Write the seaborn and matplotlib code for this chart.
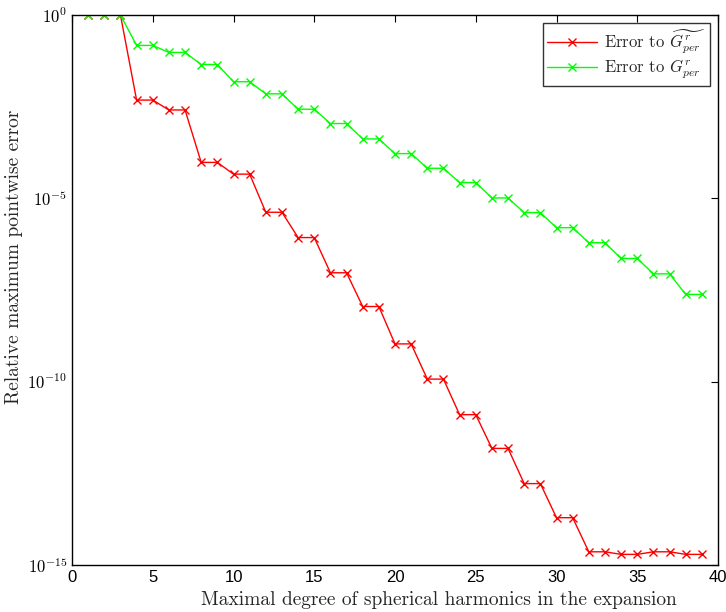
import numpy as np
import pandas as pd
import matplotlib
matplotlib.use("Agg")
import matplotlib.pyplot as plt
import seaborn as sns

degree = list(range(1, 40))
# log10 of relative maximum pointwise error
red_log = [0, 0, 0, -2.32, -2.32, -2.59, -2.59, -4.02, -4.02, -4.34, -4.34,
           -5.38, -5.38, -6.07, -6.07, -7.03, -7.03, -7.95, -7.95, -8.97, -8.97,
           -9.93, -9.93, -10.9, -10.9, -11.82, -11.82, -12.78, -12.78, -13.71, -13.71,
           -14.64, -14.64, -14.71, -14.71, -14.64, -14.64, -14.71, -14.71]
green_log = [0, 0, 0, -0.83, -0.83, -1.02, -1.02, -1.35, -1.35, -1.82, -1.82,
             -2.15, -2.15, -2.57, -2.57, -2.96, -2.96, -3.38, -3.38, -3.78, -3.78,
             -4.18, -4.18, -4.57, -4.57, -4.99, -4.99, -5.39, -5.39, -5.80, -5.80,
             -6.21, -6.21, -6.64, -6.64, -7.06, -7.06, -7.62, -7.62]
labels = [r'Error to $\widetilde{G^{r}_{per}}$', r'Error to $G^{r}_{per}$']
colors = ['#ff0000', '#00ff00']
x_ticks = [0, 5, 10, 15, 20, 25, 30, 35, 40]
y_ticks = [1e-15, 1e-10, 1e-5, 1e0]
y_ticklabels = [r'$\mathsf{10^{-15}}$', r'$\mathsf{10^{-10}}$', r'$\mathsf{10^{-5}}$', r'$\mathsf{10^{0}}$']

df = pd.DataFrame({
    'degree': degree * 2,
    'error': [10 ** v for v in red_log] + [10 ** v for v in green_log],
    'series': [labels[0]] * len(degree) + [labels[1]] * len(degree),
})

sns.set_style('white')
plt.rcParams['mathtext.fontset'] = 'cm'
plt.rcParams['axes.unicode_minus'] = True
fig = plt.figure(figsize=(7.26, 6.12), dpi=100)
ax = fig.add_axes([72 / 726, 1 - 565 / 612, (718 - 72) / 726, (565 - 15) / 612])

sns.lineplot(data=df, x='degree', y='error', hue='series', style='series',
             palette=colors, markers=['x', 'x'], dashes=False,
             linewidth=1.0, markersize=6, markeredgewidth=1.0, ax=ax)
for ln in ax.lines:
    ln.set_markeredgecolor(ln.get_color())

ax.set_yscale('log')
ax.set_xlim(0, 40)
ax.set_ylim(1e-15, 1)
ax.set_xticks(x_ticks)
ax.set_xticklabels([str(t) for t in x_ticks])
ax.set_yticks(y_ticks)
ax.set_yticklabels(y_ticklabels)
ax.yaxis.set_minor_locator(matplotlib.ticker.NullLocator())
ax.tick_params(direction='in', top=True, right=True, length=5, width=0.8,
               labelsize=12, colors='black')
for lab in ax.get_xticklabels():
    lab.set_fontfamily('Liberation Sans')
for s in ax.spines.values():
    s.set_color('black')
    s.set_linewidth(1.0)

ax.set_xlabel('Maximal degree of spherical harmonics in the expansion',
              fontfamily='cmr10', fontsize=14)
ax.set_ylabel('Relative maximum pointwise error',
              fontfamily='cmr10', fontsize=14)
ax.xaxis.set_label_coords(0.568, -0.047)
ax.yaxis.set_label_coords(-0.076, 0.56)

leg = ax.legend(loc='upper right', fontsize=12, frameon=True, fancybox=False,
                borderpad=0.25, handlelength=3, labelspacing=0.15,
                borderaxespad=0.5, handletextpad=0.4)
leg.get_frame().set_edgecolor('black')
leg.get_frame().set_linewidth(1.0)
leg.set_title(None)
for t in leg.get_texts():
    t.set_fontfamily('cmr10')
for h, c in zip(leg.get_lines(), colors):
    h.set_markeredgecolor(c)

fig.savefig('out.png', dpi=100)
